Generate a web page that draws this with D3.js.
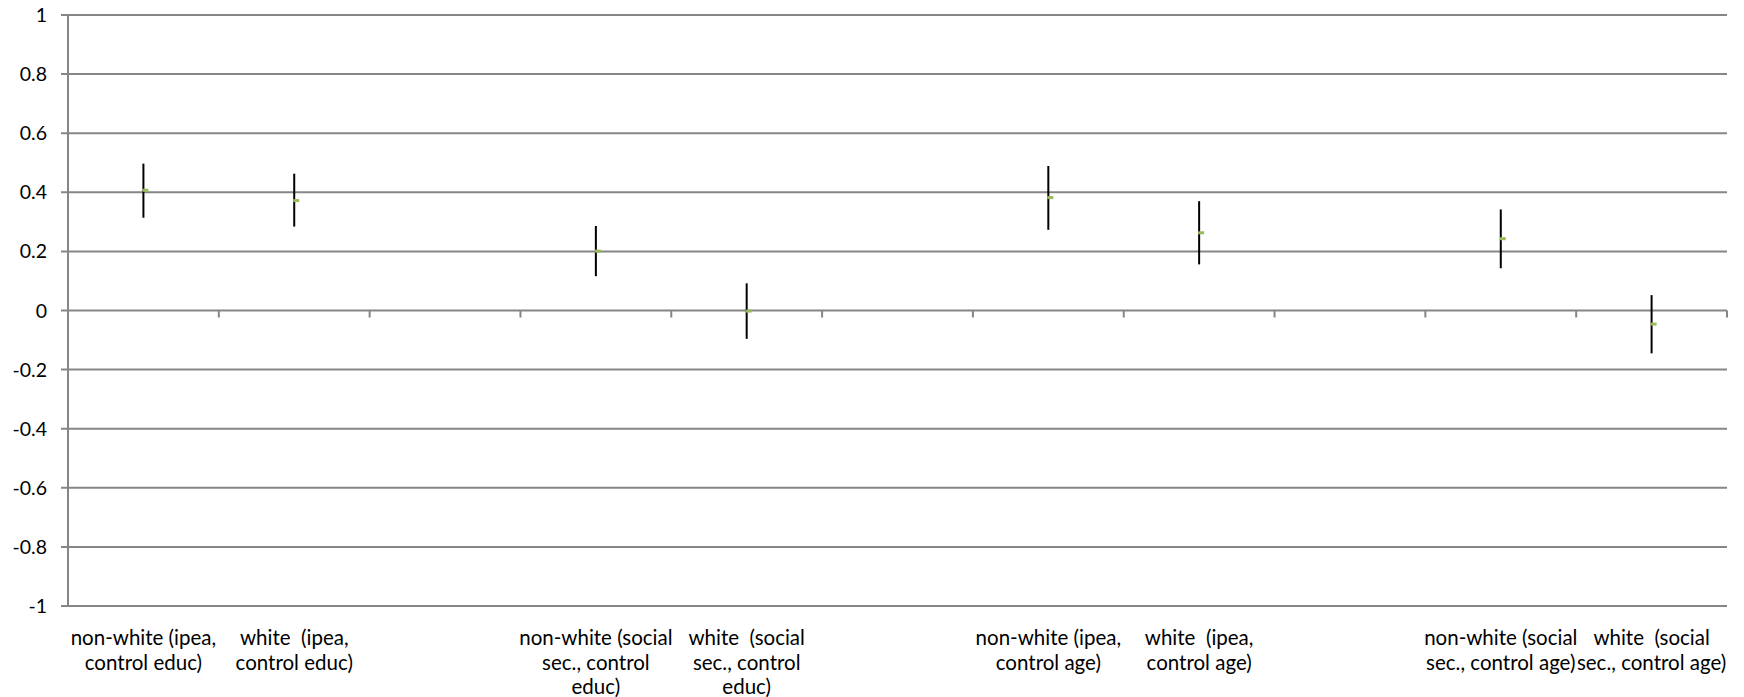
<!DOCTYPE html>
<html><head><meta charset="utf-8">
<script src="https://cdn.jsdelivr.net/npm/d3@7"></script>
<style>body{margin:0;background:#fff}svg{display:block}text{font-family:Lato,"Liberation Sans",sans-serif;fill:#000;white-space:pre}</style>
</head><body><svg id="c" width="1744" height="697"></svg>
<script>
const categories = [
  "non-white (ipea,\ncontrol educ)",
  "white  (ipea,\ncontrol educ)",
  "",
  "non-white (social\nsec., control\neduc)",
  "white  (social\nsec., control\neduc)",
  "",
  "non-white (ipea,\ncontrol age)",
  "white  (ipea,\ncontrol age)",
  "",
  "non-white (social\nsec., control age)",
  "white  (social\nsec., control age)"
];
const estimates = [0.407, 0.372, null, 0.201, -0.002, null, 0.382, 0.263, null, 0.243, -0.046];
const upper     = [0.497, 0.463, null, 0.286, 0.092, null, 0.489, 0.370, null, 0.342, 0.052];
const lower     = [0.314, 0.284, null, 0.116, -0.096, null, 0.273, 0.156, null, 0.143, -0.145];
const yTicks = [-1, -0.8, -0.6, -0.4, -0.2, 0, 0.2, 0.4, 0.6, 0.8, 1];

const svg = d3.select("#c");
const L = 68, R = 1727, T = 15, B = 606;
const x = d3.scaleBand().domain(d3.range(categories.length)).range([L, R]).padding(0);
const y = d3.scaleLinear().domain([-1, 1]).range([B, T]);
const grid = "#868686";

svg.append("g").selectAll("line").data(yTicks).join("line")
  .attr("x1", L - 7).attr("x2", R).attr("y1", d => y(d)).attr("y2", d => y(d))
  .attr("stroke", grid).attr("stroke-width", 2);
svg.append("line").attr("x1", L).attr("x2", L).attr("y1", T).attr("y2", B)
  .attr("stroke", grid).attr("stroke-width", 2);
svg.append("g").selectAll("text").data(yTicks).join("text")
  .attr("x", 47).attr("y", d => y(d)).attr("dy", "0.36em").attr("text-anchor", "end")
  .attr("font-size", 19.5).text(d => String(+d.toFixed(1)));
const bounds = d3.range(1, categories.length + 1).map(i => i === categories.length ? R : x(i));
svg.append("g").selectAll("line").data(bounds).join("line")
  .attr("x1", d => d).attr("x2", d => d).attr("y1", y(0)).attr("y2", y(0) + 7)
  .attr("stroke", grid).attr("stroke-width", 2);

const lab = svg.append("g");
categories.forEach((c, i) => {
  if (!c) return;
  const t = lab.append("text").attr("text-anchor", "middle").attr("font-size", 20.5)
    .attr("transform", `translate(${x(i) + x.bandwidth() / 2},0)`);
  c.split("\n").forEach((ln, j) => t.append("tspan").attr("x", 0).attr("y", 645 + j * 24.5).text(ln));
});

const idx = d3.range(categories.length).filter(i => estimates[i] !== null);
svg.append("g").selectAll("line").data(idx).join("line")
  .attr("x1", i => x(i) + x.bandwidth() / 2).attr("x2", i => x(i) + x.bandwidth() / 2)
  .attr("y1", i => y(upper[i])).attr("y2", i => y(lower[i]))
  .attr("stroke", "#000").attr("stroke-width", 2);
svg.append("g").selectAll("rect").data(idx).join("rect")
  .attr("x", i => x(i) + x.bandwidth() / 2 - 1).attr("y", i => y(estimates[i]) - 1.5)
  .attr("width", 6).attr("height", 3).attr("fill", "#9BBB59");
</script></body></html>
